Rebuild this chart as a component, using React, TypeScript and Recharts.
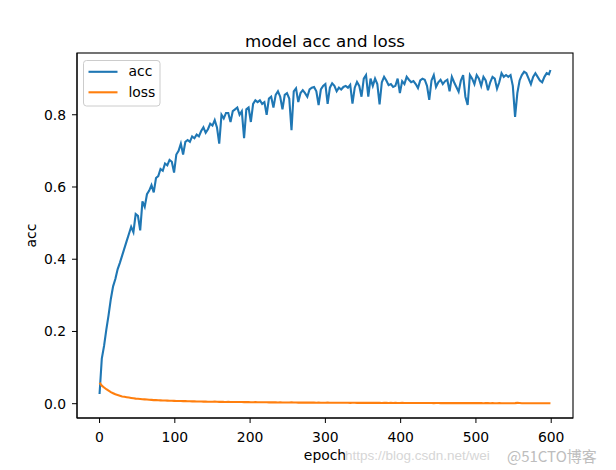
import { LineChart, Line, XAxis, YAxis } from 'recharts';

// acc / loss read every 3 epochs (last point is epoch 599)
const acc = [
  0.027, 0.125, 0.16, 0.205, 0.245, 0.29, 0.325, 0.345, 0.372, 0.39,
  0.41, 0.43, 0.45, 0.47, 0.49, 0.475, 0.525, 0.52, 0.48, 0.56,
  0.545, 0.58, 0.59, 0.605, 0.585, 0.625, 0.63, 0.65, 0.645, 0.665,
  0.66, 0.675, 0.67, 0.64, 0.69, 0.7, 0.72, 0.69, 0.725, 0.73,
  0.725, 0.74, 0.735, 0.745, 0.74, 0.755, 0.765, 0.75, 0.76, 0.775,
  0.77, 0.785, 0.765, 0.72, 0.8, 0.79, 0.805, 0.805, 0.78, 0.81,
  0.815, 0.82, 0.8, 0.81, 0.735, 0.815, 0.82, 0.78, 0.83, 0.84,
  0.835, 0.84, 0.83, 0.835, 0.8, 0.845, 0.85, 0.82, 0.855, 0.865,
  0.85, 0.815, 0.855, 0.86, 0.845, 0.757, 0.865, 0.873, 0.835, 0.86,
  0.868, 0.86, 0.85, 0.87, 0.875, 0.877, 0.865, 0.827, 0.87, 0.88,
  0.885, 0.83, 0.875, 0.887, 0.88, 0.865, 0.875, 0.87, 0.877, 0.88,
  0.875, 0.883, 0.831, 0.875, 0.891, 0.88, 0.85, 0.9, 0.91, 0.85,
  0.9, 0.88, 0.9, 0.885, 0.829, 0.89, 0.905, 0.895, 0.882, 0.885,
  0.877, 0.88, 0.9, 0.86, 0.893, 0.885, 0.905, 0.897, 0.89, 0.893,
  0.885, 0.874, 0.895, 0.9, 0.897, 0.88, 0.841, 0.895, 0.91, 0.877,
  0.89, 0.897, 0.885, 0.893, 0.897, 0.865, 0.905, 0.89, 0.877, 0.864,
  0.895, 0.91, 0.85, 0.827, 0.91, 0.9, 0.885, 0.91, 0.9, 0.88,
  0.905, 0.895, 0.868, 0.89, 0.905, 0.9, 0.872, 0.89, 0.915, 0.905,
  0.91, 0.905, 0.91, 0.88, 0.794, 0.86, 0.895, 0.91, 0.919, 0.915,
  0.9, 0.885, 0.905, 0.915, 0.905, 0.895, 0.89, 0.905, 0.915, 0.912, 0.924,
];

const loss = [
  0.058, 0.05, 0.045, 0.04, 0.036, 0.032, 0.029, 0.026, 0.024, 0.022,
  0.02, 0.019, 0.018, 0.017, 0.016, 0.015, 0.014, 0.0135, 0.013, 0.0125,
  0.012, 0.0115, 0.011, 0.0105, 0.01, 0.0098, 0.0095, 0.0092, 0.009, 0.0088,
  0.0085, 0.0083, 0.008, 0.0078, 0.0076, 0.0075, 0.0073, 0.0071, 0.007, 0.0068,
  0.0066, 0.0065, 0.0063, 0.0062, 0.006, 0.0059, 0.0058, 0.0057, 0.0056, 0.0055,
  0.0054, 0.0056, 0.0052, 0.0051, 0.0053, 0.005, 0.0049, 0.0051, 0.0048, 0.0047,
  0.0048, 0.0046, 0.0045, 0.0047, 0.0044, 0.0043, 0.0045, 0.0042, 0.0041, 0.0043,
  0.0041, 0.004, 0.0039, 0.0041, 0.0038, 0.0037, 0.0039, 0.0036, 0.0037, 0.0035,
  0.0036, 0.0034, 0.0035, 0.0033, 0.0034, 0.0036, 0.0032, 0.0033, 0.0031, 0.0032,
  0.0031, 0.003, 0.0032, 0.0029, 0.003, 0.0031, 0.0028, 0.0029, 0.0028, 0.0027,
  0.0028, 0.0029, 0.0027, 0.0026, 0.0027, 0.0026, 0.0028, 0.0025, 0.0026, 0.0025,
  0.0026, 0.0024, 0.0025, 0.0027, 0.0024, 0.0023, 0.0025, 0.0024, 0.0023, 0.0024,
  0.0023, 0.0022, 0.0024, 0.0023, 0.0022, 0.0021, 0.0023, 0.0022, 0.0021, 0.0022,
  0.0021, 0.0022, 0.002, 0.0021, 0.0022, 0.002, 0.0019, 0.0021, 0.002, 0.0019,
  0.002, 0.0019, 0.0018, 0.002, 0.0019, 0.0018, 0.0019, 0.0018, 0.0017, 0.0019,
  0.0018, 0.0017, 0.0018, 0.0017, 0.0016, 0.0018, 0.0017, 0.0016, 0.0017, 0.0016,
  0.0017, 0.0016, 0.0015, 0.0017, 0.0016, 0.0015, 0.0016, 0.0015, 0.0016, 0.0015,
  0.0014, 0.0016, 0.0015, 0.0014, 0.0015, 0.0014, 0.0013, 0.0015, 0.0014, 0.0013,
  0.0014, 0.0013, 0.0014, 0.0013, 0.0016, 0.0022, 0.0018, 0.0014, 0.0013, 0.0012,
  0.0013, 0.0012, 0.0013, 0.0012, 0.0011, 0.0012, 0.0011, 0.0012, 0.0011, 0.0012, 0.0011,
];

const epochs = acc.map((_, i) => Math.min(i * 3, 599));
const xTicks = [0, 100, 200, 300, 400, 500, 600];
const yTicks = [0, 0.2, 0.4, 0.6, 0.8];
const series = [
  { key: 'acc', color: '#1f77b4' },
  { key: 'loss', color: '#ff7f0e' },
];

const data = epochs.map((epoch, i) => ({ epoch, acc: acc[i], loss: loss[i] }));

const W = 616;
const H = 470;
const margin = { top: 53, right: 43, bottom: 22, left: 17 };
const yAxisW = 60;
const xAxisH = 30;
const plot = {
  x: margin.left + yAxisW,
  y: margin.top,
  w: W - margin.left - yAxisW - margin.right,
  h: H - margin.top - margin.bottom - xAxisH,
};

const xDomain = [-29.95, 628.95];
const yDomain = [-0.0396, 0.971];
const font = 'DejaVu Sans, sans-serif';
const tickStyle = { fontFamily: font, fontSize: 13.9, fill: '#000' };

export default function App() {
  return (
    <div style={{ position: 'absolute', left: 0, top: 0, width: W, height: H, background: '#fff' }}>
      <LineChart width={W} height={H} data={data} margin={margin}>
        <XAxis
          dataKey="epoch"
          type="number"
          domain={xDomain}
          ticks={xTicks}
          allowDataOverflow
          height={xAxisH}
          tick={tickStyle}
          tickSize={5}
          tickMargin={9}
          stroke="#000"
        />
        <YAxis
          type="number"
          domain={yDomain}
          ticks={yTicks}
          allowDataOverflow
          width={yAxisW}
          tick={tickStyle}
          tickSize={5}
          tickMargin={6}
          tickFormatter={(v: number) => v.toFixed(1)}
          stroke="#000"
        />
        {series.map((s) => (
          <Line
            key={s.key}
            type="linear"
            dataKey={s.key}
            name={s.key}
            stroke={s.color}
            strokeWidth={2.1}
            dot={false}
            isAnimationActive={false}
          />
        ))}
      </LineChart>
      <svg width={W} height={H} style={{ position: 'absolute', left: 0, top: 0, pointerEvents: 'none' }}>
        {/* axes frame */}
        <rect x={plot.x} y={plot.y} width={plot.w} height={plot.h} fill="none" stroke="#000" strokeWidth={1.1} />
        <text x={plot.x + plot.w / 2} y={46.5} textAnchor="middle" fontFamily={font} fontSize={16.7} fill="#000">
          model acc and loss
        </text>
        <text x={plot.x + plot.w / 2} y={460} textAnchor="middle" fontFamily={font} fontSize={13.9} fill="#000">
          epoch
        </text>
        <text x={36} y={235.5} textAnchor="middle" fontFamily={font} fontSize={13.9} fill="#000" transform="rotate(-90 36 235.5)">
          acc
        </text>
        {/* legend */}
        <g transform="translate(83.5 60.5)">
          <rect x={0} y={0} width={76.5} height={45.5} rx={3} fill="#fff" fillOpacity={0.8} stroke="#cccccc" />
          {series.map((s, i) => (
            <g key={s.key}>
              <line x1={5} x2={34} y1={11.3 + i * 20.5} y2={11.3 + i * 20.5} stroke={s.color} strokeWidth={2.1} />
              <text x={45} y={15.8 + i * 20.5} fontFamily={font} fontSize={13.9} fill="#000">
                {s.key}
              </text>
            </g>
          ))}
        </g>
        <text x={345} y={460} fontFamily="Liberation Sans, sans-serif" fontSize={13.5} fill="#d6d6d6">
          https://blog.csdn.net/wei
        </text>
        <text x={507} y={462} fontFamily="Noto Sans CJK SC, sans-serif" fontSize={15} fill="#bdbdbd">
          @51CTO博客
        </text>
      </svg>
    </div>
  );
}
